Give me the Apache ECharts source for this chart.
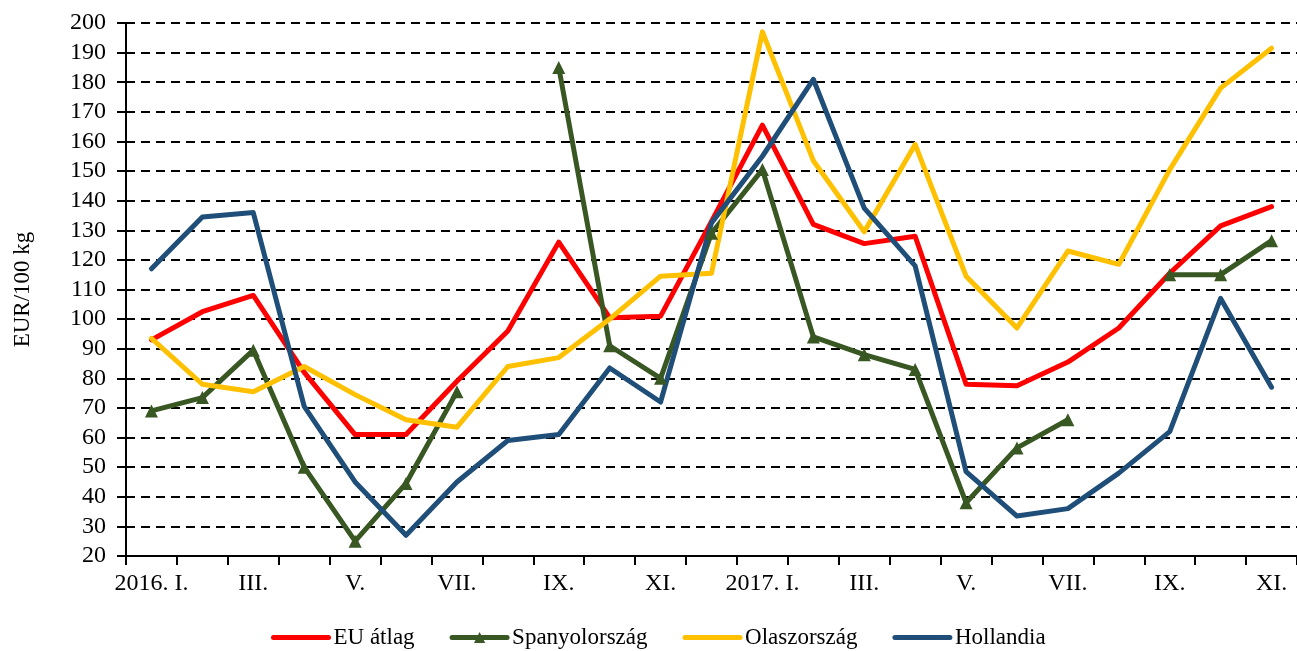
<!DOCTYPE html>
<html>
<head>
<meta charset="utf-8">
<script src="https://cdn.jsdelivr.net/npm/echarts@6/dist/echarts.min.js"></script>
<style>
  html, body { margin: 0; padding: 0; background: #fff; }
  #chart { width: 1297px; height: 651px; }
</style>
</head>
<body>
<div id="chart"></div>
<script>
// havi árak, 2016. január - 2017. november
var months = ['2016. I.', 'II.', 'III.', 'IV.', 'V.', 'VI.', 'VII.', 'VIII.', 'IX.', 'X.', 'XI.', 'XII.',
  '2017. I.', 'II.', 'III.', 'IV.', 'V.', 'VI.', 'VII.', 'VIII.', 'IX.', 'X.', 'XI.']
var euAtlag = [93, 102.5, 108, 82, 61, 61, 79, 96, 126, 100.5, 101, 133,
  165.5, 132, 125.5, 128, 78, 77.5, 85.5, 97, 115.5, 131.5, 138]
var spanyol = [69, 73.5, 89.5, 50, 25, 44.5, 75.5, null, 185, 91, 80, 129,
  150.5, 94, 88, 83, 38, 56.5, 66, null, 115, 115, 126.5]
var olasz = [93.5, 78, 75.5, 84, 74.5, 66, 63.5, 84, 87, 100, 114.5, 115.5,
  197, 153.5, 129.5, 159, 114.5, 97, 123, 118.5, 150.5, 178, 191.5]
var hollandia = [117, 134.5, 136, 70.5, 45, 27, 45, 59, 61, 83.5, 72, 132.5,
  155, 181, 137.5, 118, 48.5, 33.5, 36, 48, 62, 107, 77]

var font = 'Liberation Serif'

var chart = echarts.init(document.getElementById('chart'))

function lineSeries (name, data, color, symbol) {
  return {
    name: name,
    type: 'line',
    data: data,
    symbol: symbol || 'none',
    symbolSize: 13,
    showAllSymbol: true,
    connectNulls: false,
    lineStyle: { color: color, width: 5, cap: 'round', join: 'round' },
    itemStyle: { color: color },
    emphasis: { disabled: true }
  }
}

var option = {
  animation: false,
  textStyle: { fontFamily: font, color: '#000' },
  grid: {
    left: 126,
    top: 23,
    bottom: 95,
    right: -6
  },
  legend: {
    left: 266,
    top: 621,
    itemWidth: 55,
    itemHeight: 14,
    itemGap: 35,
    lineStyle: { width: 5, cap: 'round' },
    textStyle: { fontFamily: font, fontSize: 23, color: '#000' },
    data: [
      { name: 'EU átlag', itemStyle: { opacity: 0 } },
      'Spanyolország',
      { name: 'Olaszország', itemStyle: { opacity: 0 } },
      { name: 'Hollandia', itemStyle: { opacity: 0 } }
    ]
  },
  xAxis: {
    type: 'category',
    data: months,
    boundaryGap: true,
    axisLine: { lineStyle: { color: '#000', width: 2 } },
    axisTick: {
      show: true,
      interval: 0,
      length: 9,
      lineStyle: { color: '#000', width: 2 }
    },
    axisLabel: {
      interval: 1,
      margin: 16,
      fontFamily: font,
      fontSize: 24,
      color: '#000'
    },
    splitLine: { show: false }
  },
  yAxis: {
    type: 'value',
    min: 20,
    max: 200,
    interval: 10,
    name: 'EUR/100 kg',
    nameLocation: 'middle',
    nameRotate: 90,
    nameGap: 92,
    nameTextStyle: { fontFamily: font, fontSize: 23, color: '#000' },
    axisLine: { show: true, lineStyle: { color: '#000', width: 2 } },
    axisTick: {
      show: true,
      length: 9,
      lineStyle: { color: '#000', width: 2 }
    },
    axisLabel: {
      margin: 20,
      fontFamily: font,
      fontSize: 24,
      color: '#000'
    },
    splitLine: {
      lineStyle: { color: '#000', width: 2, type: [9, 6] }
    }
  },
  series: [
    lineSeries('EU átlag', euAtlag, '#FF0000'),
    lineSeries('Spanyolország', spanyol, '#385723', 'triangle'),
    lineSeries('Olaszország', olasz, '#FFC000'),
    lineSeries('Hollandia', hollandia, '#1F4E79')
  ]
}

chart.setOption(option)
</script>
</body>
</html>
